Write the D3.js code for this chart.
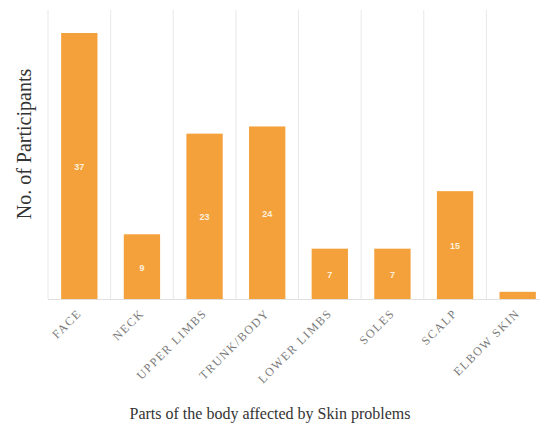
<!DOCTYPE html>
<html>
<head>
<meta charset="utf-8">
<script src="https://cdn.jsdelivr.net/npm/d3@7/dist/d3.min.js"></script>
<style>
  html, body { margin: 0; padding: 0; background: #fff; overflow: hidden; }
  svg { display: block; }
</style>
</head>
<body>
<svg id="chart" width="540" height="429"></svg>
<script>
// Body parts affected by skin problems and participant counts
const categories = ["FACE", "NECK", "UPPER LIMBS", "TRUNK/BODY", "LOWER LIMBS", "SOLES", "SCALP", "ELBOW SKIN"];
const counts = [37, 9, 23, 24, 7, 7, 15, 1];
const yTitle = "No. of Participants";
const xTitle = "Parts of the body affected by Skin problems";

const svg = d3.select("#chart");
const margin = { left: 48, top: 10, baseline: 299 };
const plotRight = 549;

const x = d3.scaleBand()
  .domain(categories)
  .range([margin.left, plotRight])
  .paddingInner(0.42)
  .paddingOuter(0.21);

const y = d3.scaleLinear()
  .domain([0, 37])
  .range([margin.baseline, 33]);

// Vertical separators between categories
const step = x.step();
const bandStarts = categories.map((c, i) => margin.left + i * step);
bandStarts.push(margin.left + categories.length * step);
svg.append("g")
  .selectAll("line")
  .data(bandStarts)
  .join("line")
  .attr("x1", d => d).attr("x2", d => d)
  .attr("y1", margin.top).attr("y2", margin.baseline)
  .attr("stroke", "#e8e8e8").attr("stroke-width", 1);

// Bars
svg.append("g")
  .selectAll("rect")
  .data(categories)
  .join("rect")
  .attr("x", d => x(d))
  .attr("width", x.bandwidth())
  .attr("y", (d, i) => y(counts[i]))
  .attr("height", (d, i) => y(0) - y(counts[i]))
  .attr("fill", "#f5a13b");

// Baseline
svg.append("line")
  .attr("x1", margin.left).attr("x2", plotRight)
  .attr("y1", margin.baseline + 0.5).attr("y2", margin.baseline + 0.5)
  .attr("stroke", "#e0e0e0");

// Value labels inside bars
svg.append("g")
  .selectAll("text")
  .data(categories)
  .join("text")
  .attr("x", d => x(d) + x.bandwidth() / 2)
  .attr("y", (d, i) => (y(counts[i]) + y(0)) / 2 + 4)
  .attr("text-anchor", "middle")
  .attr("font-family", "Liberation Sans, Arial, sans-serif")
  .attr("font-size", 9)
  .attr("font-weight", 600)
  .attr("fill", "#fdf0dc")
  .text((d, i) => counts[i] > 2 ? counts[i] : "");

// Category axis with rotated labels
const xAxis = d3.axisBottom(x).tickSize(0).tickPadding(0);
const gx = svg.append("g")
  .attr("transform", `translate(0,${margin.baseline})`)
  .call(xAxis);
gx.select(".domain").remove();
gx.selectAll(".tick text")
  .attr("font-family", "Liberation Serif, Times New Roman, serif")
  .attr("font-size", 12)
  .attr("letter-spacing", 1.5)
  .attr("fill", "#7a7a7a")
  .attr("text-anchor", "end")
  .attr("dy", 0)
  .attr("transform", "translate(3,15) rotate(-45)");

// Axis titles
svg.append("text")
  .attr("transform", `translate(31,144) rotate(-90)`)
  .attr("text-anchor", "middle")
  .attr("font-family", "Liberation Serif, Times New Roman, serif")
  .attr("font-size", 20)
  .attr("fill", "#333")
  .text(yTitle);

svg.append("text")
  .attr("x", 270)
  .attr("y", 419)
  .attr("text-anchor", "middle")
  .attr("font-family", "Liberation Serif, Times New Roman, serif")
  .attr("font-size", 16)
  .attr("fill", "#333")
  .text(xTitle);
</script>
</body>
</html>
